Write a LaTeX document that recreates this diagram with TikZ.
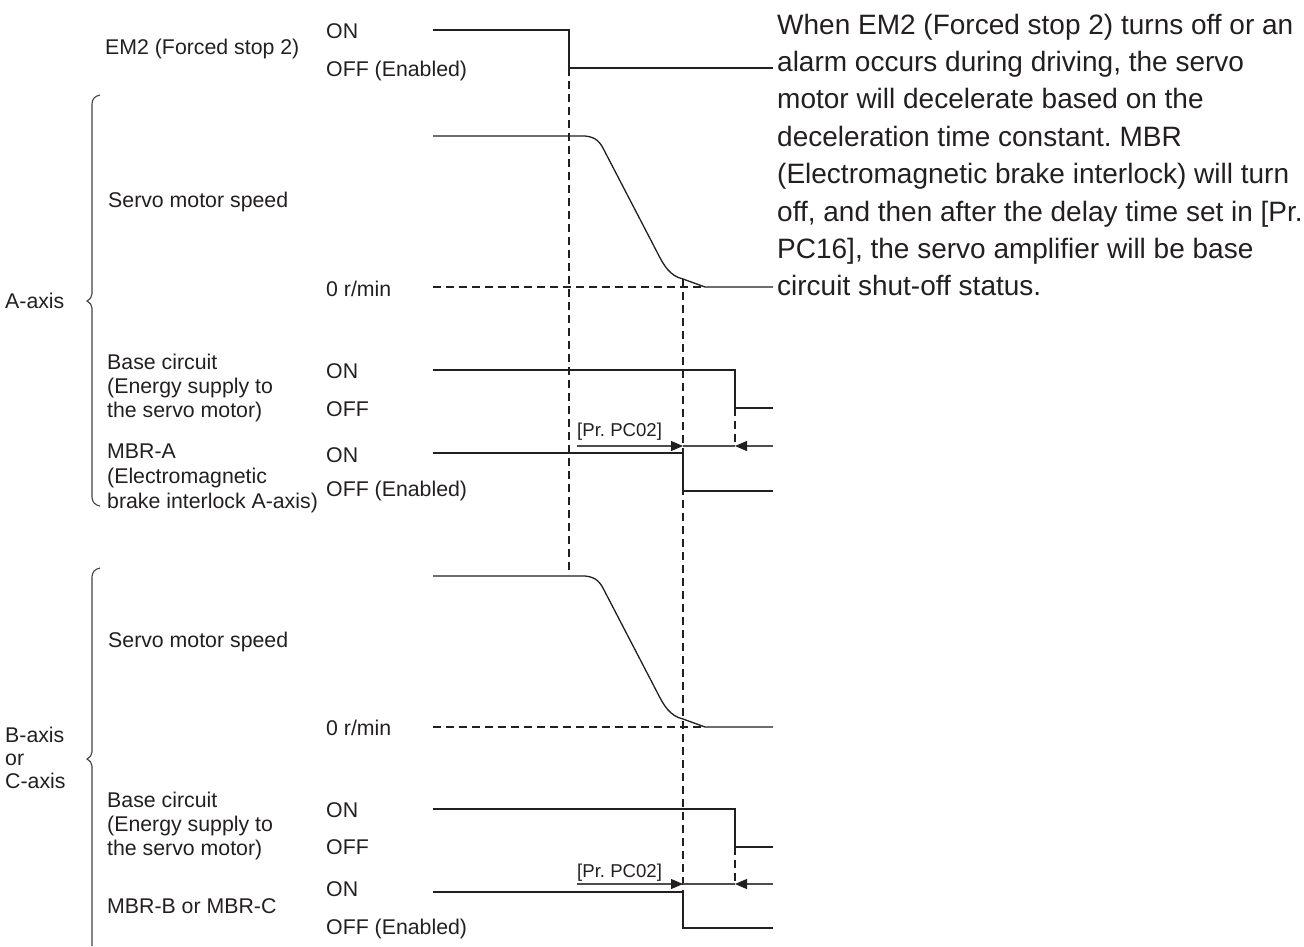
\documentclass[tikz,border=0pt]{standalone}
\usepackage{fontspec}
\setmainfont{Liberation Sans}
\usetikzlibrary{arrows.meta}
\definecolor{ink}{HTML}{231F20}
\frenchspacing
\begin{document}
\begin{tikzpicture}[x=1pt,y=-1pt,
  lbl/.style={anchor=west,inner sep=0pt,font=\fontsize{21.3}{25}\selectfont,text height=15.3pt,text depth=0pt,text=ink},
  big/.style={anchor=west,inner sep=0pt,font=\fontsize{28}{37}\selectfont,text height=20pt,text depth=0pt,text=ink},
  small/.style={anchor=west,inner sep=0pt,font=\fontsize{18.6}{22}\selectfont,text height=13.3pt,text depth=0pt,text=ink},
  sig/.style={draw=ink,line width=1.3pt},
  dsh/.style={draw=ink,line width=1.1pt,dash pattern=on 8pt off 5pt},
  dimline/.style={draw=ink!80,line width=1.1pt},
  dimtip/.style={-{Triangle[length=12pt,width=10pt,fill=ink,color=ink]}},
  brc/.style={draw=ink!85,line width=1.1pt}]
\useasboundingbox (0,0) rectangle (1304,946);

% ---------- right text ----------
\node[big] (t1) at (777,24) {When EM2 (Forced stop 2) turns off or an};
\node[big] (t2) at (777,61) {alarm occurs during driving, the servo};
\node[big] (t3) at (777,98) {motor will decelerate based on the};
\node[big] (t4) at (777,136) {deceleration time constant. MBR};
\node[big] (t5) at (777,173) {(Electromagnetic brake interlock) will turn};
\node[big] (t6) at (777,211) {off, and then after the delay time set in [Pr.};
\node[big] (t7) at (777,248) {PC16], the servo amplifier will be base};
\node[big] (t8) at (777,285) {circuit shut-off status.};

% ---------- left labels ----------
\node[lbl] (em2) at (105,47) {EM2 (Forced stop 2)};
\node[lbl] (em2on) at (326,31) {ON};
\node[lbl] (em2off) at (326,69) {OFF (Enabled)};

\node[lbl] (spdA) at (108,200) {Servo motor speed};
\node[lbl] (zeroA) at (326,289) {0 r/min};
\node[lbl] (axA) at (5,301) {A-axis};
\node[lbl] (bcA1) at (107,362) {Base circuit};
\node[lbl] (bcA2) at (107,386) {(Energy supply to};
\node[lbl] (bcA3) at (107,410) {the servo motor)};
\node[lbl] (bcAon) at (326,371) {ON};
\node[lbl] (bcAoff) at (326,409) {OFF};
\node[lbl] (mbA1) at (107,451) {MBR-A};
\node[lbl] (mbA2) at (107,476) {(Electromagnetic};
\node[lbl] (mbA3) at (107,501) {brake interlock A-axis)};
\node[lbl] (mbAon) at (326,455) {ON};
\node[lbl] (mbAoff) at (326,489) {OFF (Enabled)};

\node[lbl] (spdB) at (108,640) {Servo motor speed};
\node[lbl] (zeroB) at (326,728) {0 r/min};
\node[lbl] (axB1) at (5,735) {B-axis};
\node[lbl] (axB2) at (5,758) {or};
\node[lbl] (axB3) at (5,781) {C-axis};
\node[lbl] (bcB1) at (107,800) {Base circuit};
\node[lbl] (bcB2) at (107,824) {(Energy supply to};
\node[lbl] (bcB3) at (107,848) {the servo motor)};
\node[lbl] (bcBon) at (326,810) {ON};
\node[lbl] (bcBoff) at (326,847) {OFF};
\node[lbl] (mbB) at (107,906) {MBR-B or MBR-C};
\node[lbl] (mbBon) at (326,889) {ON};
\node[lbl] (mbBoff) at (326,927) {OFF (Enabled)};

\node[small] (pcA) at (577,430) {[Pr. PC02]};
\node[small] (pcB) at (577,871) {[Pr. PC02]};

% ---------- dashed guide lines ----------
\coordinate (g1t) at (569,68);  \coordinate (g1b) at (569,575);
\coordinate (g2t) at (683,279); \coordinate (g2b) at (683,892);
\coordinate (g3t) at (735,408); \coordinate (g3b) at (735,446);
\coordinate (g4t) at (735,847); \coordinate (g4b) at (735,884);
\draw[dsh] (g1t) -- (g1b);
\draw[dsh] (g2t) -- (g2b);
\draw[dsh] (g3t) -- (g3b);
\draw[dsh] (g4t) -- (g4b);

% ---------- EM2 ----------
\coordinate (emS) at (433,30); \coordinate (emD) at (569,30); \coordinate (emE) at (773,68);
\draw[sig] (emS) -- (emD) |- (emE);

% ---------- speed curves ----------
\foreach \dy/\nm in {0/A,440/B}{
  \begin{scope}[shift={(0,\dy)}]
    \coordinate (zs\nm) at (433,287); \coordinate (ze\nm) at (705,287);
    \draw[dsh] (zs\nm) -- (ze\nm);
    \draw[sig] (433,136) -- (585,136) .. controls (596,137) and (600,142) .. (604,150)
       -- (657,252) .. controls (664,266) and (670,276) .. (683,279)
       -- (705,287) -- (773,287);
  \end{scope}
}

% ---------- base circuit & MBR ----------
\coordinate (bAs) at (433,370); \coordinate (bAd) at (735,370); \coordinate (bAe) at (773,408);
\draw[sig] (bAs) -- (bAd) |- (bAe);
\coordinate (mAs) at (433,453); \coordinate (mAd) at (683,453); \coordinate (mAe) at (773,491);
\draw[sig] (mAs) -- (mAd) |- (mAe);
\coordinate (bBs) at (433,809); \coordinate (bBd) at (735,809); \coordinate (bBe) at (773,847);
\draw[sig] (bBs) -- (bBd) |- (bBe);
\coordinate (mBs) at (433,892); \coordinate (mBd) at (683,892); \coordinate (mBe) at (773,928);
\draw[sig] (mBs) -- (mBd) |- (mBe);

% ---------- delay arrows ----------
\coordinate (aAl) at (577,446); \coordinate (aAm) at (683,446); \coordinate (aAr) at (735,446); \coordinate (aAe) at (773,446);
\draw[dimline,dimtip] (aAl) -- (aAm);
\draw[dimline] (aAm) -- (aAr);
\draw[dimline,dimtip] (aAe) -- (aAr);
\coordinate (aBl) at (577,884); \coordinate (aBm) at (683,884); \coordinate (aBr) at (735,884); \coordinate (aBe) at (773,884);
\draw[dimline,dimtip] (aBl) -- (aBm);
\draw[dimline] (aBm) -- (aBr);
\draw[dimline,dimtip] (aBe) -- (aBr);

% ---------- braces ----------
\draw[brc] (100,95) .. controls (95,96) and (92,99) .. (92,104)
  -- (92,294) .. controls (92,297) and (90,299) .. (87,301)
  .. controls (90,303) and (92,305) .. (92,308)
  -- (92,497) .. controls (92,502) and (95,505) .. (100,506);
\draw[brc] (100,568) .. controls (95,569) and (92,572) .. (92,577)
  -- (92,752) .. controls (92,755) and (90,757) .. (87,759)
  .. controls (90,761) and (92,763) .. (92,766)
  -- (92,946);
\end{tikzpicture}
\end{document}
